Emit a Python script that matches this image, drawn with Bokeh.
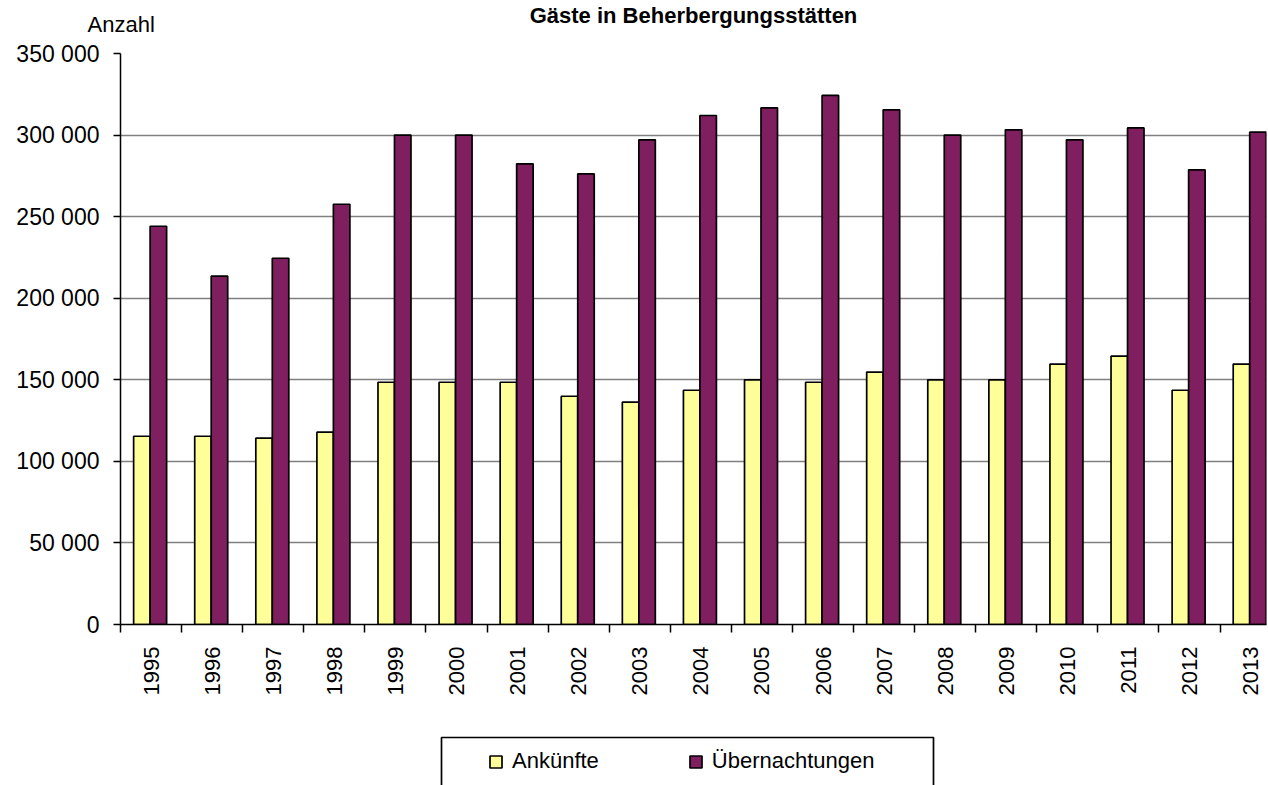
import numpy as np
from bokeh.plotting import figure
from bokeh.layouts import column
from bokeh.models import (ColumnDataSource, Range1d, FixedTicker, Legend, LegendItem, Label,
                          BoxAnnotation)
from bokeh.embed import file_html
from bokeh.resources import INLINE

title_text = "Gäste in Beherbergungsstätten"
y_label = "Anzahl"
years = ["1995", "1996", "1997", "1998", "1999", "2000", "2001", "2002", "2003", "2004",
         "2005", "2006", "2007", "2008", "2009", "2010", "2011", "2012", "2013"]
ankuenfte = [115400, 115400, 114200, 117900, 148500, 148500, 148500, 139900, 136300, 143600,
             150000, 148500, 154700, 150000, 150000, 159600, 164500, 143600, 159600]
uebernachtungen = [244100, 213500, 224500, 257600, 300000, 300000, 282400, 276200, 297100, 312000,
                   316700, 324300, 315500, 300000, 303200, 297100, 304400, 278700, 301800]
y_ticks = [0, 50000, 100000, 150000, 200000, 250000, 300000, 350000]
y_tick_labels = ["0", "50 000", "100 000", "150 000", "200 000", "250 000", "300 000", "350 000"]
series_names = ["Ankünfte", "Übernachtungen"]

FONT = "Liberation Sans"
YELLOW = "#FFFF99"
PURPLE = "#7F1F5F"
W = 1268

# ---------------- header strip (title + unit label) ----------------
top = figure(width=W, height=36, output_backend="svg", toolbar_location=None,
             x_range=Range1d(0, W), y_range=Range1d(36, 0), min_border=0,
             x_axis_location=None, y_axis_location=None, title=None)
top.grid.visible = False
top.outline_line_color = None
top.add_layout(Label(x=693, y=15, text=title_text, text_font=FONT, text_font_size="22px",
                     text_font_style="bold", text_align="center", text_baseline="alphabetic",
                     text_color="black"))
top.add_layout(Label(x=87, y=24, text=y_label, text_font=FONT, text_font_size="22px",
                     text_baseline="alphabetic", text_color="black"))

# ---------------- main chart ----------------
n = len(years)
centers = np.arange(n) + 0.5
bar_center = np.arange(n) + 0.485
bw = 0.27

src = ColumnDataSource(dict(
    xa=bar_center - bw / 2, xu=bar_center + bw / 2,
    a=ankuenfte, u=uebernachtungen, year=years))

p = figure(width=W, height=674, output_backend="svg", toolbar_location=None,
           x_range=Range1d(0, 18.76), y_range=Range1d(0, 350000),
           min_border_left=120, min_border_right=2, min_border_top=17, min_border_bottom=86,
           title=None)

p.vbar(x="xa", top="a", width=bw, source=src, fill_color=YELLOW,
       line_color="black", line_width=1.7)
p.vbar(x="xu", top="u", width=bw, source=src, fill_color=PURPLE,
       line_color="black", line_width=1.7)

p.outline_line_color = None
p.xgrid.visible = False
p.ygrid.grid_line_color = "#808080"
p.ygrid.grid_line_width = 1.5

p.yaxis.ticker = FixedTicker(ticks=y_ticks)
p.yaxis.major_label_overrides = {t: l for t, l in zip(y_ticks, y_tick_labels)}
p.yaxis.major_tick_out = 7
p.yaxis.major_tick_in = 0
p.yaxis.minor_tick_line_color = None
p.yaxis.major_label_standoff = 14
p.yaxis.major_label_text_font = FONT
p.yaxis.major_label_text_font_size = "23px"
p.yaxis.major_label_text_color = "black"
p.yaxis.axis_line_width = 1.5
p.yaxis.major_tick_line_width = 1.5

p.xaxis.ticker = FixedTicker(ticks=list(centers), minor_ticks=list(range(n + 1)))
p.xaxis.major_label_overrides = {float(c): y for c, y in zip(centers, years)}
p.xaxis.major_tick_out = 0
p.xaxis.major_tick_in = 0
p.xaxis.minor_tick_out = 8
p.xaxis.minor_tick_in = 0
p.xaxis.minor_tick_line_color = "black"
p.xaxis.minor_tick_line_width = 1.5
p.xaxis.major_label_orientation = np.pi / 2
p.xaxis.major_label_standoff = 14
p.xaxis.major_label_text_font = FONT
p.xaxis.major_label_text_font_size = "22px"
p.xaxis.major_label_text_color = "black"
p.xaxis.axis_line_width = 1.5

# ---------------- legend strip ----------------
# frame of this strip is aligned with the chart frame (x 120..1266 px), y measured from strip top
leg = figure(width=W, height=75, output_backend="svg", toolbar_location=None,
             x_range=Range1d(120, 1266), y_range=Range1d(75, 0), min_border=0,
             x_axis_location=None, y_axis_location=None, title=None)
leg.grid.visible = False
leg.outline_line_color = None
# legend-only swatch renderers (no drawable data)
la = leg.vbar(x=[np.nan], bottom=[np.nan], top=[np.nan], width=1, fill_color=YELLOW,
              line_color="black", line_width=1.7)
lu = leg.vbar(x=[np.nan], bottom=[np.nan], top=[np.nan], width=1, fill_color=PURPLE,
              line_color="black", line_width=1.7)
leg.add_layout(BoxAnnotation(left=441, right=933, top=27, bottom=90, fill_color=None,
                             fill_alpha=0, line_color="black", line_alpha=1.0, line_width=1.7))
legend = Legend(items=[LegendItem(label=series_names[0], renderers=[la]),
                       LegendItem(label=series_names[1], renderers=[lu])],
                orientation="horizontal", location=(368, 11), margin=0,
                padding=0, spacing=89, glyph_width=15, glyph_height=15,
                label_standoff=9, label_height=25,
                label_text_font=FONT, label_text_font_size="22px", label_text_color="black",
                border_line_color=None, background_fill_alpha=0)
leg.add_layout(legend)

layout = column(top, column(p, leg, spacing=0), spacing=0)
open("out.html", "w").write(file_html(layout, INLINE))
